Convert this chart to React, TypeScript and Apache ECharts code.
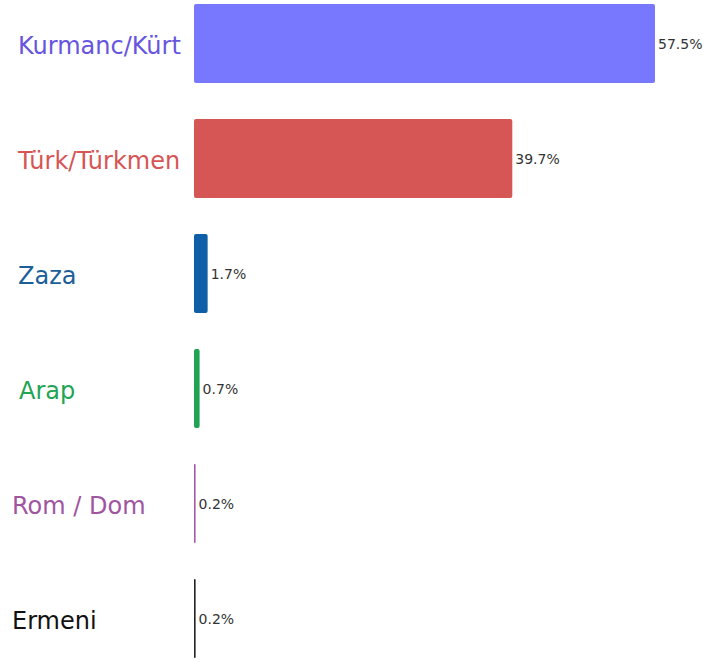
import React, { useEffect, useRef } from "react";
import * as echarts from "echarts";

const categories = ["Kurmanc/Kürt", "Türk/Türkmen", "Zaza", "Arap", "Rom / Dom", "Ermeni"];
const values = [57.5, 39.7, 1.7, 0.7, 0.2, 0.2];
const barColors = ["#7878FF", "#D65555", "#0F5FA8", "#20A453", "#A45AA6", "#222222"];
const labelColors = ["#6655E0", "#D65555", "#1B5E9A", "#21A454", "#A0559F", "#111111"];
const labelIndent = [6, 6, 6, 7, 0, 0];

export default function App() {
  const ref = useRef<HTMLDivElement>(null);
  useEffect(() => {
    if (!ref.current) return;
    const chart = echarts.init(ref.current, null, { renderer: "svg" });
    const rich: Record<string, any> = {};
    categories.forEach((_c, i) => {
      rich["c" + i] = {
        fontSize: 24,
        fontFamily: "DejaVu Sans",
        color: labelColors[i],
        padding: [4, 0, 0, labelIndent[i]],
      };
    });
    chart.setOption({
      animation: false,
      backgroundColor: "#ffffff",
      grid: { left: 194, right: 65, top: 0, bottom: 0, containLabel: false },
      xAxis: {
        type: "value",
        min: 0,
        max: 57.5,
        show: false,
      },
      yAxis: {
        type: "category",
        inverse: true,
        data: categories,
        axisLine: { show: false },
        axisTick: { show: false },
        axisLabel: {
          align: "left",
          margin: 182,
          fontSize: 24,
          fontFamily: "DejaVu Sans",
          formatter: (v: string) => {
            const i = categories.indexOf(v);
            return "{c" + i + "|" + v + "}";
          },
          rich,
        },
      },
      series: [
        {
          type: "bar",
          barWidth: 79,
          data: values.map((v, i) => ({
            value: v,
            itemStyle: { color: barColors[i], borderRadius: 2 },
          })),
          label: {
            show: true,
            position: "right",
            distance: 3,
            fontSize: 14,
            fontFamily: "DejaVu Sans",
            color: "#333333",
            formatter: (p: any) => p.value + "%",
          },
        },
      ],
    });
    return () => chart.dispose();
  }, []);
  return (
    <div style={{ position: "fixed", left: 0, top: 0, width: 720, height: 662, overflow: "hidden", background: "#fff" }}>
      <div ref={ref} style={{ position: "absolute", left: 0, top: -14, width: 720, height: 690 }} />
    </div>
  );
}
